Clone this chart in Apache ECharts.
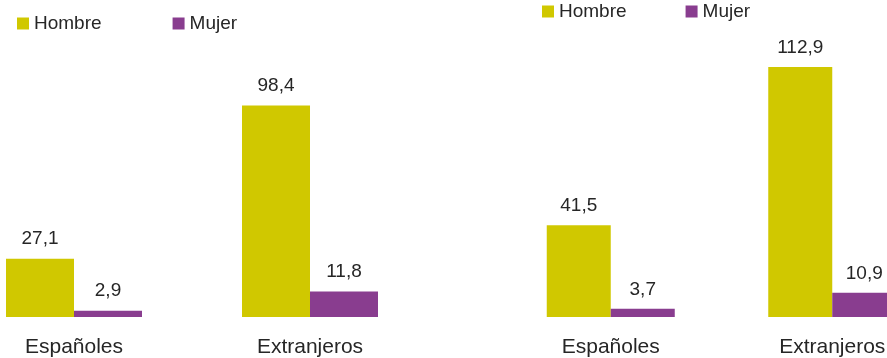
<!DOCTYPE html>
<html>
<head>
<meta charset="utf-8">
<script src="https://cdn.jsdelivr.net/npm/echarts@6/dist/echarts.min.js"></script>
<style>
  html, body { margin: 0; padding: 0; background: #fff; }
  #container { width: 887px; height: 358px; }
</style>
</head>
<body>
<div id="container"></div>
<script>
// Datos
var categorias = ['Españoles', 'Extranjeros'];
var series = ['Hombre', 'Mujer'];
var hombreIzq = [27.1, 98.4];
var mujerIzq = [2.9, 11.8];
var hombreDer = [41.5, 112.9];
var mujerDer = [3.7, 10.9];

var colores = ['#d0c800', '#893d8f'];
var fuente = "'Liberation Sans', Arial, sans-serif";
var colorTexto = '#262626';

var dom = document.getElementById('container');
var myChart = echarts.init(dom, null, { renderer: 'canvas' });

function etiqueta() {
    return {
        show: true,
        position: 'top',
        distance: 10,
        fontFamily: fuente,
        fontSize: 19,
        color: colorTexto,
        formatter: function (p) {
            return p.value.toFixed(1).replace('.', ',');
        }
    };
}

function serie(nombre, datos, eje, color, ancho) {
    return {
        name: nombre,
        type: 'bar',
        xAxisIndex: eje,
        yAxisIndex: eje,
        data: datos,
        barWidth: ancho,
        barGap: 0,
        itemStyle: { color: color },
        label: etiqueta()
    };
}

function ejeX(idx) {
    return {
        type: 'category',
        gridIndex: idx,
        data: categorias,
        axisLine: { show: false },
        axisTick: { show: false },
        axisLabel: {
            margin: 20,
            fontFamily: fuente,
            fontSize: 21,
            color: colorTexto
        }
    };
}

function ejeY(idx, max) {
    return {
        type: 'value',
        gridIndex: idx,
        min: 0,
        max: max,
        show: false,
        splitLine: { show: false }
    };
}

function leyenda(left, top, gap) {
    return {
        data: series,
        left: left,
        top: top,
        padding: 0,
        icon: 'rect',
        itemWidth: 12,
        itemHeight: 12,
        itemGap: gap,
        textStyle: { fontFamily: fuente, fontSize: 19, color: colorTexto }
    };
}

var option = {
    animation: false,
    color: colores,
    legend: [leyenda(17, 14, 71), leyenda(542, 2, 59)],
    grid: [
        { left: -44, width: 472, top: 0, bottom: 41, outerBoundsMode: 'none' },
        { left: 500, width: 443, top: 0, bottom: 41, outerBoundsMode: 'none' }
    ],
    xAxis: [ejeX(0), ejeX(1)],
    yAxis: [ejeY(0, 147.4), ejeY(1, 143.2)],
    series: [
        serie('Hombre', hombreIzq, 0, colores[0], 68),
        serie('Mujer', mujerIzq, 0, colores[1], 68),
        serie('Hombre', hombreDer, 1, colores[0], 64),
        serie('Mujer', mujerDer, 1, colores[1], 64)
    ]
};

myChart.setOption(option);

window.addEventListener('resize', function () {
    myChart.resize();
});
</script>
</body>
</html>
